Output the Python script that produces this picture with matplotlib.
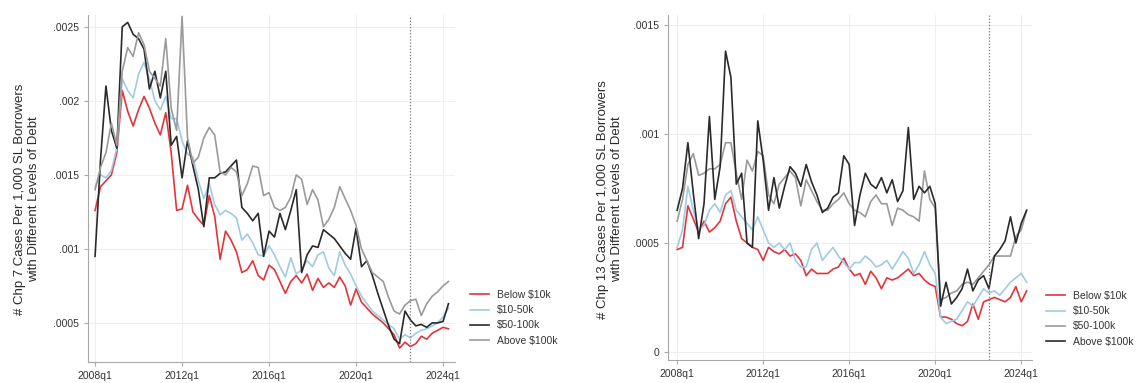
import numpy as np
import pandas as pd
import matplotlib
matplotlib.use("Agg")
import matplotlib.pyplot as plt
from matplotlib.ticker import FuncFormatter

plt.rcParams['font.family'] = ['Liberation Sans', 'DejaVu Sans']

quarters = pd.period_range('2008Q1', '2024Q2', freq='Q')
tick_quarters = ['2008Q1', '2012Q1', '2016Q1', '2020Q1', '2024Q1']
tick_labels = ['2008q1', '2012q1', '2016q1', '2020q1', '2024q1']
event_quarter = '2022Q3'

# cases per 1,000 borrowers, in units of 1e-4
chp7_below = [12.6, 14.2, 14.6, 15.0, 16.5, 20.7, 19.3, 18.3, 19.4, 20.3, 19.5, 18.5, 17.7, 19.2, 16.5, 12.6,
              12.7, 14.3, 12.5, 12.0, 11.6, 13.6, 12.2, 9.3, 11.2, 10.6, 9.8, 8.4, 8.6, 9.2, 8.2, 7.9,
              8.9, 8.6, 7.8, 7.0, 7.8, 8.2, 7.7, 8.3, 7.2, 8.0, 7.4, 7.7, 7.4, 8.1, 7.5, 6.2,
              7.3, 6.4, 6.0, 5.6, 5.3, 5.0, 4.6, 4.2, 3.3, 3.7, 3.4, 3.6, 4.1, 3.9, 4.3, 4.5,
              4.7, 4.6]
chp7_10_50 = [14.2, 15.0, 14.8, 15.3, 16.8, 21.5, 20.7, 20.2, 21.8, 22.6, 21.5, 20.0, 19.4, 20.3, 18.8, 18.8,
              17.3, 16.4, 16.2, 14.6, 13.4, 14.4, 13.0, 12.3, 12.6, 12.4, 12.1, 10.6, 11.0, 10.4, 9.6, 9.5,
              10.2, 9.6, 8.8, 8.1, 9.4, 8.3, 8.6, 9.2, 8.8, 9.6, 9.8, 8.7, 8.2, 9.8, 8.9, 8.3,
              7.5, 6.8, 6.3, 5.8, 5.5, 5.2, 4.9, 4.6, 3.9, 4.2, 4.0, 4.3, 4.5, 4.6, 4.8, 5.0,
              5.4, 6.0]
chp7_50_100 = [9.5, 16.0, 21.0, 18.0, 16.8, 25.0, 25.3, 24.5, 24.2, 23.5, 20.8, 22.0, 20.2, 22.0, 17.0, 17.6,
               14.8, 17.3, 15.6, 14.0, 11.5, 14.8, 14.8, 15.1, 15.2, 15.6, 16.0, 12.8, 12.4, 11.9, 12.4, 9.5,
               11.2, 10.8, 12.4, 11.3, 12.6, 14.0, 8.4, 9.6, 10.2, 10.1, 11.3, 11.0, 10.7, 10.2, 9.7, 9.3,
               11.4, 8.8, 9.2, 8.2, 7.0, 5.9, 4.8, 3.9, 3.6, 5.8, 5.2, 4.8, 4.9, 4.7, 5.0, 5.0,
               5.1, 6.3]
chp7_above = [14.0, 15.5, 16.5, 18.5, 17.0, 22.0, 23.6, 23.0, 24.6, 23.8, 22.0, 21.5, 21.0, 24.2, 19.5, 18.0,
              25.7, 17.5, 15.8, 16.2, 17.5, 18.2, 17.7, 15.2, 15.0, 15.5, 15.2, 13.6, 14.4, 15.6, 15.5, 13.6,
              13.8, 12.8, 12.6, 12.8, 13.5, 15.0, 14.7, 13.0, 14.0, 13.3, 11.5, 12.0, 12.8, 14.2, 13.4, 12.6,
              11.6, 10.0, 9.2, 8.4, 8.1, 7.8, 6.7, 5.8, 5.6, 6.2, 6.5, 6.6, 5.5, 6.3, 6.8, 7.1,
              7.5, 7.8]

chp13_below = [4.7, 4.8, 6.7, 6.1, 5.5, 6.0, 5.5, 5.7, 6.0, 6.8, 7.1, 6.0, 5.2, 5.0, 4.8, 4.7,
               4.2, 4.8, 4.6, 4.5, 4.7, 4.4, 4.5, 4.2, 3.5, 3.8, 3.6, 3.6, 3.6, 3.8, 3.9, 4.3,
               3.8, 3.5, 3.6, 3.1, 3.7, 3.4, 2.9, 3.4, 3.3, 3.4, 3.6, 3.8, 3.5, 3.6, 3.3, 3.1,
               3.0, 1.6, 1.6, 1.5, 1.3, 1.2, 1.4, 2.2, 1.5, 2.3, 2.4, 2.5, 2.4, 2.3, 2.5, 3.0,
               2.3, 2.8]
chp13_10_50 = [4.8, 5.6, 7.6, 6.5, 5.6, 5.8, 6.5, 6.8, 6.4, 7.2, 7.4, 6.5, 6.2, 5.9, 5.6, 6.2,
               5.6, 5.0, 4.8, 5.0, 4.7, 5.0, 4.2, 3.9, 3.9, 4.7, 5.0, 4.2, 4.5, 4.8, 4.4, 4.1,
               3.8, 4.1, 4.1, 4.4, 4.2, 3.9, 4.0, 4.2, 3.8, 4.2, 4.6, 4.3, 3.6, 4.0, 4.6, 4.0,
               3.6, 1.6, 1.3, 1.4, 1.5, 1.9, 2.3, 2.1, 2.5, 2.9, 2.7, 2.8, 2.6, 2.9, 3.2, 3.4,
               3.6, 3.2]
chp13_50_100 = [6.0, 7.0, 8.6, 9.1, 8.1, 8.2, 8.4, 8.4, 8.6, 9.6, 9.6, 8.2, 7.0, 8.8, 8.3, 9.2,
                9.0, 7.2, 6.8, 7.7, 8.0, 8.3, 8.0, 6.7, 7.9, 7.4, 6.9, 6.5, 6.5, 6.8, 7.0, 7.3,
                6.8, 6.5, 6.4, 6.2, 6.9, 7.2, 6.8, 6.8, 5.8, 6.6, 6.5, 6.3, 6.2, 6.0, 8.3, 7.0,
                6.6, 2.4, 2.5, 2.7, 2.8, 3.1, 3.2, 3.1, 3.4, 3.7, 4.0, 4.4, 4.4, 4.4, 4.4, 5.3,
                5.6, 6.5]
chp13_above = [6.5, 7.5, 9.6, 7.3, 5.2, 6.8, 10.8, 7.0, 8.5, 13.8, 12.6, 7.7, 8.2, 5.0, 4.8, 10.6,
               8.8, 6.5, 8.0, 6.6, 7.6, 8.5, 8.2, 7.6, 8.6, 7.8, 7.2, 6.4, 6.6, 7.1, 7.3, 9.0,
               8.6, 5.8, 7.2, 8.2, 7.7, 7.5, 8.0, 7.3, 7.9, 6.9, 7.4, 10.3, 7.0, 7.6, 7.3, 7.6,
               6.8, 2.1, 3.2, 2.2, 2.5, 2.9, 3.8, 2.8, 3.3, 3.5, 2.9, 4.4, 4.7, 5.1, 6.2, 5.0,
               5.9, 6.5]

labels = ['Below $10k', '$10-50k', '$50-100k', 'Above $100k']
red, blue, gray, dark = '#e2353b', '#9fcbe3', '#9a9a9a', '#2a2a2a'

x = np.arange(len(quarters))
pos = {str(q): i for i, q in enumerate(quarters)}


def stata_fmt(v, _):
    s = f'{v:.4f}'.rstrip('0').rstrip('.')
    if s.startswith('0.'):
        s = s[1:]
    return s


def panel(ax, series, colors, yticks, ylim, xlim, ylabel, label_x, leg_xy):
    for vals, c, lab in zip(series, colors, labels):
        ax.plot(x, np.array(vals) * 1e-4, color=c, lw=1.2, label=lab)
    ax.axvline(pos[event_quarter], color='#777777', lw=0.9, ls=(0, (1, 1.5)))
    ax.set_xlim(*xlim)
    ax.set_ylim(*ylim)
    ax.set_xticks([pos[q] for q in tick_quarters])
    ax.set_xticklabels(tick_labels)
    ax.set_yticks(yticks)
    ax.yaxis.set_major_formatter(FuncFormatter(stata_fmt))
    ax.grid(True, color='#efefef', lw=0.8)
    ax.set_axisbelow(True)
    for s in ['top', 'right']:
        ax.spines[s].set_visible(False)
    for s in ['left', 'bottom']:
        ax.spines[s].set_color('#a8a8a8')
        ax.spines[s].set_linewidth(0.8)
    ax.tick_params(colors='#a8a8a8', labelcolor='#333333', labelsize=7.5, length=3, width=0.8)
    fig.text(label_x, 0.48, ylabel, rotation=90, ha='center', va='center',
             fontsize=9.5, color='#2a2a2a', linespacing=1.3, multialignment='center')
    ax.legend(loc='upper left', bbox_to_anchor=leg_xy, bbox_transform=fig.transFigure,
              frameon=False, fontsize=7.5, handlelength=1.8, handletextpad=0.8,
              labelspacing=0.5, borderpad=0, borderaxespad=0, labelcolor='#333333')


fig = plt.figure(figsize=(11.36, 3.83), dpi=100)
ax1 = fig.add_axes([88 / 1136, 21 / 383, 367 / 1136, 347 / 383])
ax2 = fig.add_axes([668 / 1136, 23 / 383, 364 / 1136, 345 / 383])

panel(ax1, [chp7_below, chp7_10_50, chp7_50_100, chp7_above], [red, blue, dark, gray],
      [.0005, .001, .0015, .002, .0025], (2.36e-4, 25.8e-4), (-1.3, 66.2),
      '# Chp 7 Cases Per 1,000 SL Borrowers\nwith Different Levels of Debt',
      27 / 1136, (470 / 1136, 1 - 290 / 383))
panel(ax2, [chp13_below, chp13_10_50, chp13_50_100, chp13_above], [red, blue, gray, dark],
      [0, .0005, .001, .0015], (-0.37e-4, 15.46e-4), (-1.7, 66.0),
      '# Chp 13 Cases Per 1,000 SL Borrowers\nwith Different Levels of Debt',
      610 / 1136, (1046 / 1136, 1 - 291 / 383))

fig.savefig('out.png', dpi=100, facecolor='white')
